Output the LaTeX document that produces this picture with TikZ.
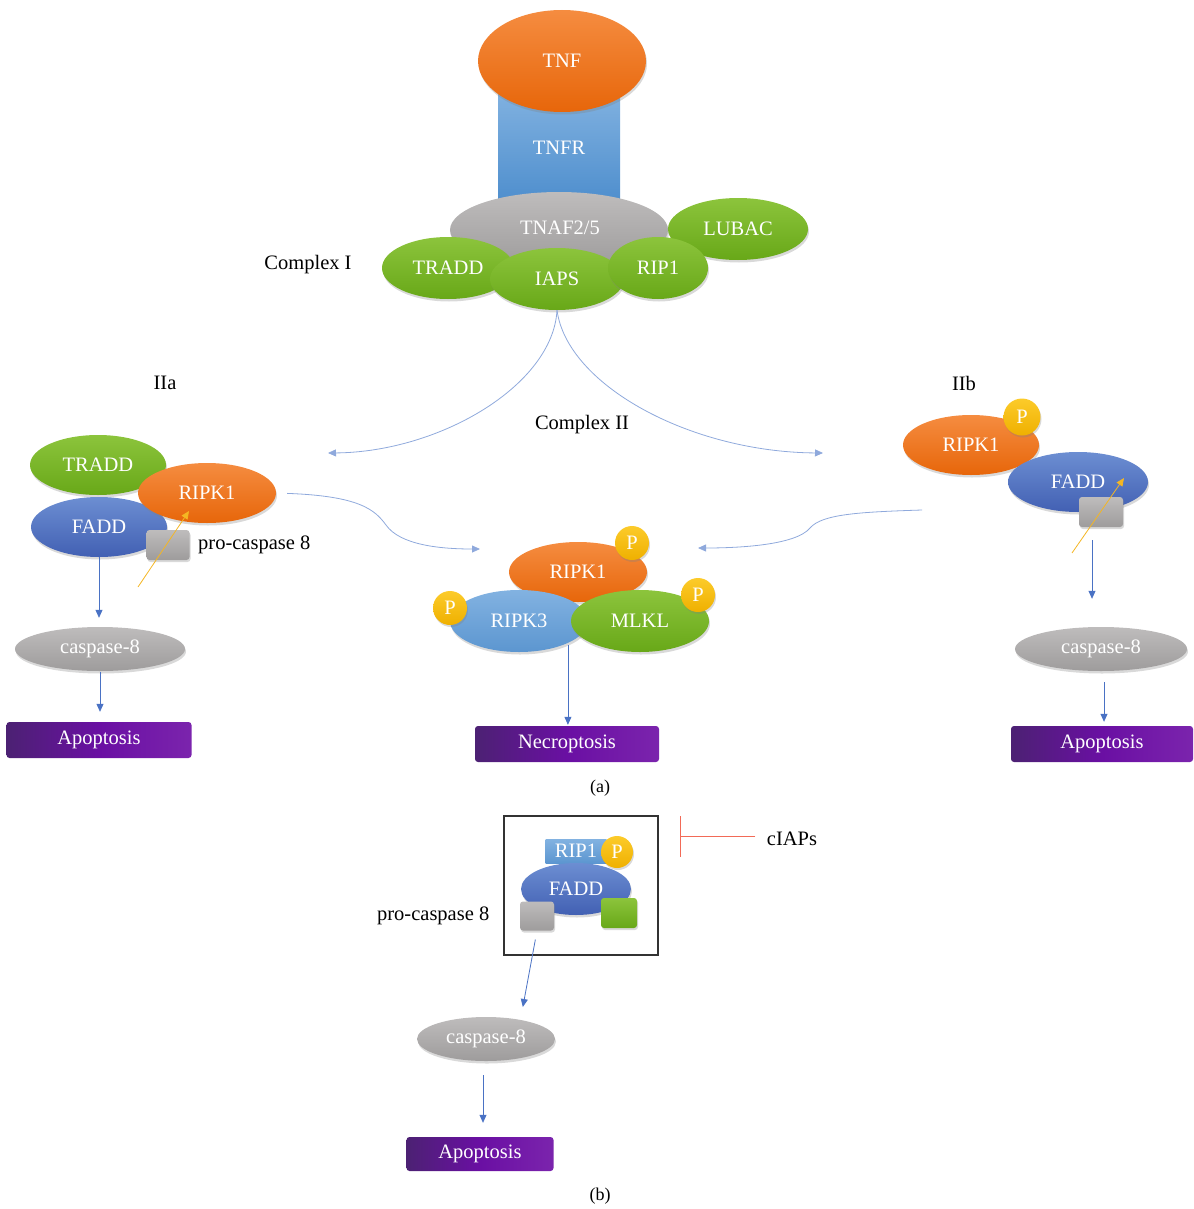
\documentclass[tikz,border=0pt]{standalone}
\usepackage{fontspec}
\setmainfont{Liberation Serif}
\usepackage{xcolor}
\usepackage{tikz}
\usetikzlibrary{arrows.meta,shapes.geometric,shadows,positioning}

\definecolor{ortop}{HTML}{F58C40}
\definecolor{orbot}{HTML}{E7660A}
\definecolor{grtop}{HTML}{8CC43C}
\definecolor{grbot}{HTML}{68A818}
\definecolor{gytop}{HTML}{BEBCBC}
\definecolor{gybot}{HTML}{9E9C9C}
\definecolor{bltop}{HTML}{6C8ED2}
\definecolor{blbot}{HTML}{4260B3}
\definecolor{sktop}{HTML}{82B2E1}
\definecolor{skbot}{HTML}{5C96D0}
\definecolor{rctop}{HTML}{80B1E0}
\definecolor{rcbot}{HTML}{4E8ECD}
\definecolor{yetop}{HTML}{FCCB2A}
\definecolor{yebot}{HTML}{EFB000}
\definecolor{pudark}{HTML}{4C2173}
\definecolor{pumid}{HTML}{6A0FA3}
\definecolor{pulight}{HTML}{7B24AD}
\definecolor{sigblue}{HTML}{4A72C4}
\definecolor{wavblue}{HTML}{8FA9DC}
\definecolor{actyel}{HTML}{F4B623}
\definecolor{inhred}{HTML}{F26A57}

\begin{document}
\begin{tikzpicture}[x=1pt,y=-1pt,>={Triangle[length=8pt,width=7pt]},
    font=\fontsize{20.5}{24}\selectfont,
    dims/.style 2 args={minimum width=#1pt,minimum height=#2pt},
    mol/.style={ellipse,inner sep=0pt,text=white,drop shadow={opacity=.3,shadow xshift=1pt,shadow yshift=-2.5pt}},
    orange mol/.style={mol,top color=ortop,bottom color=orbot},
    green mol/.style={mol,top color=grtop,bottom color=grbot},
    gray mol/.style={mol,top color=gytop,bottom color=gybot},
    blue mol/.style={mol,top color=bltop,bottom color=blbot},
    sky mol/.style={mol,top color=sktop,bottom color=skbot},
    phos/.style={circle,inner sep=0pt,minimum size=34pt,text=white,top color=yetop,bottom color=yebot,drop shadow={opacity=.3,shadow xshift=1pt,shadow yshift=-2pt}},
    pro8/.style={rectangle,rounded corners=3pt,inner sep=0pt,top color=gytop,bottom color=gybot,drop shadow={opacity=.3,shadow xshift=1pt,shadow yshift=-2pt}},
    fate/.style={rectangle,rounded corners=3pt,inner sep=0pt,text=white,left color=pudark,right color=pulight,middle color=pumid,minimum height=36pt},
    sig/.style={->,draw=sigblue,line width=0.8pt},
    wave/.style={->,draw=wavblue,line width=0.8pt},
    act/.style={->,draw=actyel,line width=0.8pt}]
    \useasboundingbox (0,0) rectangle (1193,1209);

    % (a) complex I
    \node[rectangle,inner sep=0pt,text=white,top color=rctop,bottom color=rcbot,dims={122}{110}] (tnfr) at (559,148) {TNFR};
    \node[orange mol,dims={168}{102}] (tnf) at (562,61) {TNF};
    \node[gray mol,dims={218}{76}] (tnaf) at (559,230) {};
    \node at (560,228) {\color{white}TNAF2/5};
    \node[green mol,dims={140}{62}] (lubac) at (738,229) {LUBAC};
    \node[green mol,dims={132}{62}] (tradd) at (448,268) {TRADD};
    \node[green mol,dims={134}{62}] (iaps) at (557,279) {IAPS};
    \node[green mol,dims={100}{62}] (rip1) at (658,268) {RIP1};
    \node (cplxi) at (308,265) {Complex I};

    \node (iialab) at (165,383) {IIa};
    \node (iiblab) at (964,383) {IIb};
    \node (cplxii) at (582,425) {Complex II};
    \coordinate (iia) at (328,453);
    \coordinate (iib) at (823,453);
    \draw[wave] (iaps.south) .. controls (553,385) and (440,452) .. (iia);
    \draw[wave] (iaps.south) .. controls (567,385) and (690,452) .. (iib);

    % IIa
    \node[green mol,dims={136}{60}] (tradda) at (98,465) {TRADD};
    \node[blue mol,dims={136}{60}] (fadda) at (99,527) {FADD};
    \node[orange mol,dims={138}{60}] (ripka) at (207,493) {RIPK1};
    \node[pro8,dims={43}{30}] (proca) at (168,545) {};
    \node[right=5pt of proca] (pclaba) {pro-caspase 8};
    \coordinate (acta) at (138,587);
    \coordinate (actb) at (189,511);
    \draw[act] (acta) -- (actb);
    \node[gray mol,dims={170}{44}] (caspa) at (100,649) {caspase-8};
    \node[fate,dims={185}{36}] (apoa) at (99,740) {Apoptosis};
    \draw[sig,shorten >=9pt] (fadda.south) -- (fadda.south |- caspa.north);
    \draw[sig,shorten <=1pt,shorten >=10pt] (caspa.south) -- (caspa.south |- apoa.north);

    % necroptosis
    \node[orange mol,dims={138}{60}] (ripkc) at (578,572) {RIPK1};
    \node[sky mol,dims={138}{62}] (ripk3) at (519,621) {RIPK3};
    \node[green mol,dims={138}{62}] (mlkl) at (640,621) {MLKL};
    \node[phos] (pc1) at (632,543) {P};
    \node[phos] (pc3) at (450,608) {P};
    \node[phos] (pcm) at (698,595) {P};
    \node[fate,dims={184}{36}] (necro) at (567,744) {Necroptosis};
    \draw[sig,shorten <=2pt,shorten >=1pt] (ripk3.south east) -- (ripk3.south east |- necro.north);

    \coordinate (necin) at (480,549);
    \coordinate (necinr) at (698,548);
    \coordinate (iibout) at (922,510);
    \draw[wave,shorten <=11pt] (ripka.east) .. controls (360,496) and (375,510) .. (386,525)
        .. controls (400,545) and (440,549) .. (necin);
    \draw[wave] (iibout) .. controls (860,512) and (822,514) .. (810,528)
        .. controls (796,545) and (740,548) .. (necinr);

    % IIb
    \node[orange mol,dims={136}{60}] (ripkb) at (971,445) {RIPK1};
    \node[phos,minimum size=37pt] (pb) at (1022,417) {P};
    \node[blue mol,dims={140}{60}] (faddb) at (1078,482) {FADD};
    \node[pro8,dims={44}{30}] (procb) at (1101,512) {};
    \coordinate (actc) at (1072,553);
    \coordinate (actd) at (1124,478);
    \draw[act] (actc) -- (actd);
    \node[gray mol,dims={172}{44}] (caspb) at (1101,649) {caspase-8};
    \node[fate,dims={182}{36}] (apob) at (1102,744) {Apoptosis};
    \draw[sig,shorten <=13pt,shorten >=28pt] ([xshift=-9pt]procb.south) -- ([xshift=-9pt]procb.south |- caspb.north);
    \draw[sig,shorten <=11pt,shorten >=4pt] ([xshift=3pt]caspb.south) -- ([xshift=3pt]caspb.south |- apob.north);

    \node[font=\fontsize{18}{21}\selectfont] (capa) at (600,788) {(a)};

    % (b)
    \node[draw=black!80,line width=1.3pt,dims={154}{139}] (dbox) at (581,885.5) {};
    \node[rectangle,inner sep=0pt,text=white,top color=sktop,bottom color=skbot,dims={61}{24}] (rip1d) at (576,851) {RIP1};
    \node[blue mol,dims={110}{52}] (faddd) at (576,889) {FADD};
    \node[phos,minimum size=32pt] (pd) at (617,852) {P};
    \node[pro8,dims={34}{29}] (procd) at (537,916) {};
    \node[pro8,top color=grtop,bottom color=grbot,dims={36}{30}] (grnd) at (619,913) {};
    \node[left=27pt of procd] (pclabd) {pro-caspase 8};
    \node (ciaps) at (792,839) {cIAPs};
    \coordinate (bar) at (680,836);
    \draw[draw=inhred,line width=1pt,-{Bar[width=41pt]},shorten <=8pt] (bar -| ciaps.west) -- (bar);
    \node[gray mol,dims={138}{44}] (caspd) at (486,1039) {caspase-8};
    \node[fate,dims={147}{34}] (apod) at (480,1154) {Apoptosis};
    \draw[sig,shorten <=9pt,shorten >=10pt] (procd.south) -- ([xshift=35pt]caspd.north);
    \draw[sig,shorten <=14pt,shorten >=14pt] ([xshift=-3pt]caspd.south) -- ([xshift=-3pt]caspd.south |- apod.north);

    \node[font=\fontsize{18}{21}\selectfont] (capb) at (600,1196) {(b)};
\end{tikzpicture}
\end{document}
